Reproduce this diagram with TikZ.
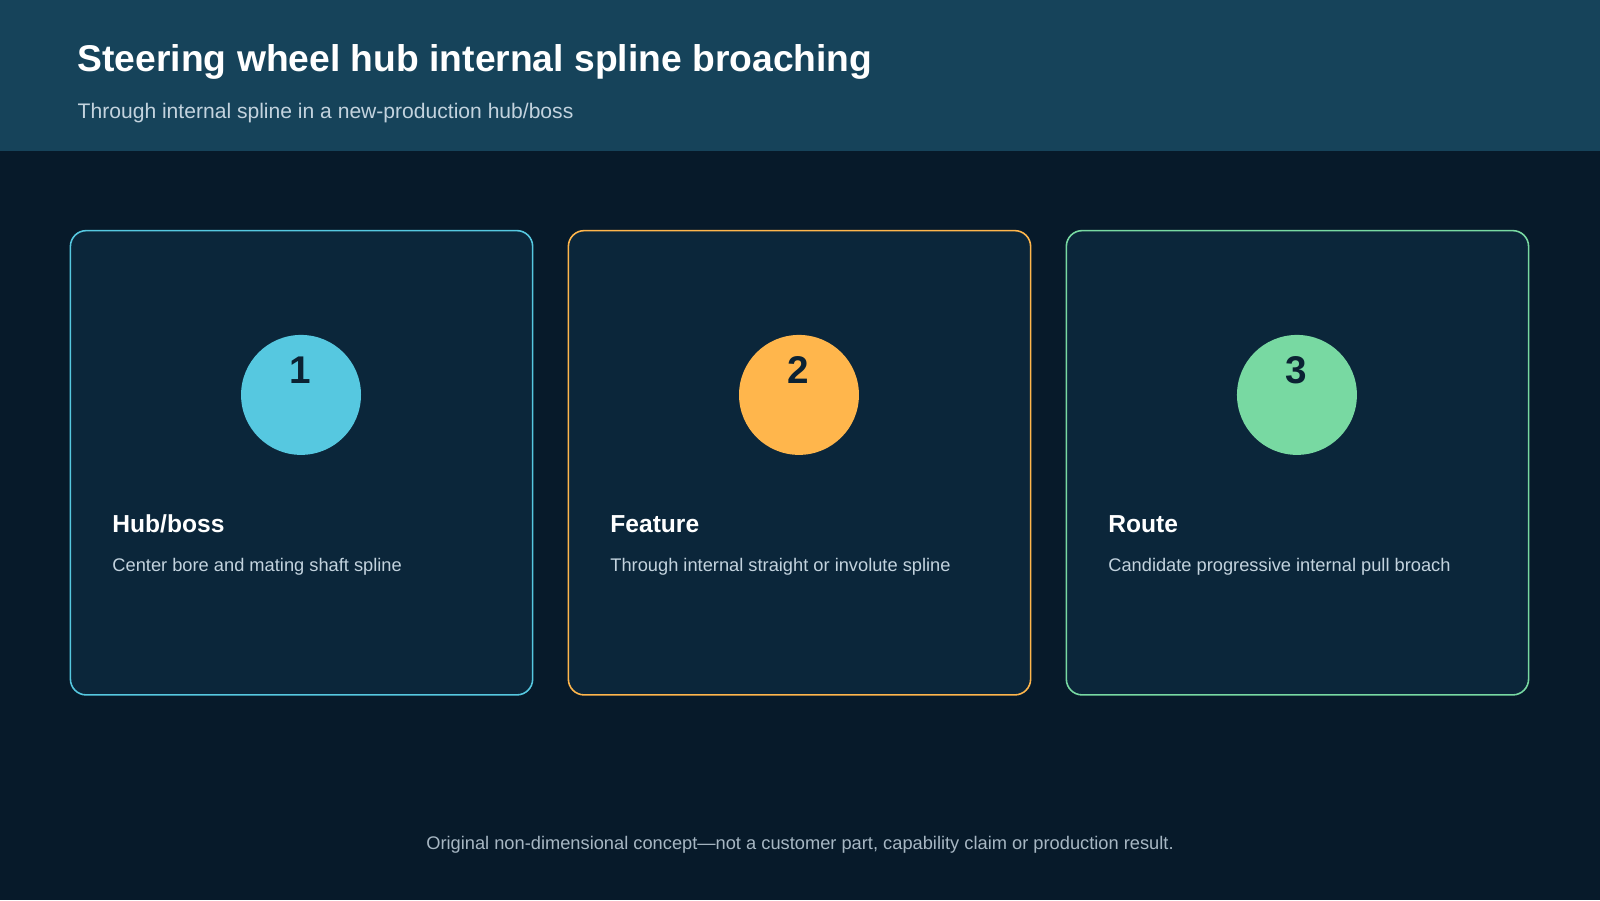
\documentclass[tikz,border=0pt]{standalone}
\usepackage{fontspec}
\setmainfont{Liberation Sans}
\usepackage{tikz}
\usetikzlibrary{positioning}
\definecolor{bgdark}{HTML}{071A2A}
\definecolor{headbg}{HTML}{16435A}
\definecolor{cardbg}{HTML}{0B263A}
\definecolor{cyanc}{HTML}{56C8E0}
\definecolor{orangec}{HTML}{FFB64C}
\definecolor{greenc}{HTML}{78D9A2}
\definecolor{subtxt}{HTML}{C3D3DE}
\definecolor{numtxt}{HTML}{0B2233}
\tikzset{
  card/.style={draw=#1, line width=0.45pt, fill=cardbg, rounded corners=4.5pt},
  badge/.style={circle, fill=#1, minimum size=1.2cm, inner sep=0pt},
  num/.style={font=\bfseries\fontsize{11}{13}\selectfont, text=numtxt},
  head/.style={anchor=base west, font=\bfseries\fontsize{7}{8}\selectfont, text=white},
  body/.style={anchor=base west, font=\fontsize{5.2}{6}\selectfont, text=subtxt}
}
\begin{document}
\begin{tikzpicture}[x=0.010204cm,y=-0.010204cm]
\fill[bgdark] (0,0) rectangle (1568,882);
\useasboundingbox (0,0) rectangle (1568,882);
\fill[headbg] (0,0) rectangle (1568,148);
\node[anchor=base west, font=\bfseries\fontsize{10.6}{12}\selectfont, text=white] (title) at (64,70) {Steering wheel hub internal spline broaching};
\node[anchor=base west, font=\fontsize{6}{7}\selectfont, text=subtxt] (subtitle) at (64,116) {Through internal spline in a new-production hub/boss};
% cards
\draw[card=cyanc] (69,226) rectangle (522,681);
\draw[card=orangec] (557,226) rectangle (1010,681);
\draw[card=greenc] (1045,226) rectangle (1498,681);
\node[badge=cyanc] (c1) at (295,387) {};
\node[badge=orangec] (c2) at (783,387) {};
\node[badge=greenc] (c3) at (1271,387) {};
\node[num] (n1) at (294,363) {1};
\node[num] (n2) at (782,363) {2};
\node[num] (n3) at (1270,363) {3};
\node[head] (h1) at (98,522) {Hub/boss};
\node[head] (h2) at (586,522) {Feature};
\node[head] (h3) at (1074,522) {Route};
\node[body] (b1) at (98,560) {Center bore and mating shaft spline};
\node[body] (b2) at (586,560) {Through internal straight or involute spline};
\node[body] (b3) at (1074,560) {Candidate progressive internal pull broach};
\node[anchor=base, font=\fontsize{5.2}{6}\selectfont, text=subtxt!85!bgdark] (foot) at (784,832) {Original non-dimensional concept—not a customer part, capability claim or production result.};
\end{tikzpicture}
\end{document}
